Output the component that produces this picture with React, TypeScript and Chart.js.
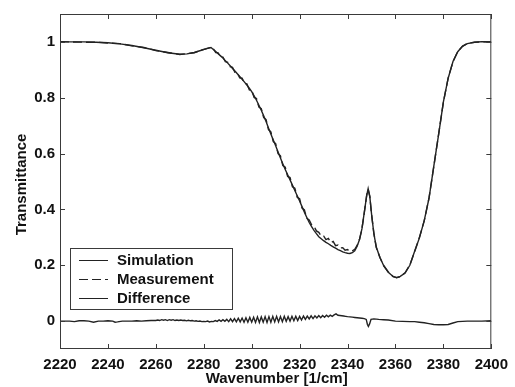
import React, { useEffect, useRef } from "react";
import { Chart, registerables } from "chart.js";

Chart.register(...registerables);

// Sampling grid (1/cm) shared by the simulated and measured spectra
const wavenumbers = [
  2220, 2225, 2230, 2235, 2240, 2245, 2250, 2255, 2260, 2265, 2270, 2273, 2276, 2279, 2281, 2283,
  2284, 2285, 2286, 2287, 2288, 2289, 2290, 2291, 2292, 2293, 2294, 2295, 2296, 2297, 2298, 2299,
  2300, 2301, 2302, 2303, 2304, 2305, 2306, 2307, 2308, 2309, 2310, 2311, 2312, 2313, 2314, 2315,
  2316, 2317, 2318, 2319, 2320, 2321, 2322, 2323, 2324, 2325, 2326, 2327, 2328, 2329, 2330, 2331,
  2332, 2333, 2334, 2335, 2336, 2337, 2338, 2339, 2340, 2341, 2342, 2343, 2344, 2345, 2346,
  2347, 2348, 2348.6, 2349.3, 2350, 2351, 2352, 2353.5, 2355, 2357, 2359, 2360.5, 2362, 2364,
  2366, 2368, 2370, 2372, 2374, 2376, 2378, 2380, 2382, 2384, 2386, 2388, 2390, 2393, 2396, 2400,
];

const simulation = [
  1.0, 1.0, 1.0, 0.999, 0.997, 0.993, 0.987, 0.979, 0.97, 0.961, 0.956, 0.957, 0.962, 0.97, 0.976, 0.98,
  0.973, 0.966, 0.958, 0.95, 0.942, 0.933, 0.924, 0.915, 0.905, 0.896, 0.886, 0.876, 0.866, 0.856, 0.845, 0.834,
  0.822, 0.807, 0.791, 0.773, 0.755, 0.735, 0.715, 0.692, 0.67, 0.649, 0.628, 0.606, 0.584, 0.563, 0.543, 0.524,
  0.506, 0.487, 0.468, 0.449, 0.43, 0.41, 0.39, 0.371, 0.353, 0.338, 0.325, 0.313, 0.302, 0.295, 0.288, 0.282,
  0.277, 0.271, 0.266, 0.261, 0.256, 0.252, 0.248, 0.245, 0.243, 0.242, 0.245, 0.252, 0.268, 0.292, 0.33,
  0.39, 0.45, 0.474, 0.445, 0.385, 0.312, 0.265, 0.228, 0.2, 0.175, 0.16, 0.155, 0.16, 0.172,
  0.2, 0.25, 0.298, 0.36, 0.44, 0.555, 0.668, 0.785, 0.87, 0.93, 0.965, 0.985, 0.994, 0.999, 1.001, 1.0,
];

const measurement = [
  1.001, 1.0, 0.999, 0.999, 0.996, 0.994, 0.986, 0.98, 0.969, 0.962, 0.955, 0.958, 0.961, 0.971, 0.975, 0.981,
  0.975, 0.962, 0.961, 0.946, 0.945, 0.929, 0.927, 0.911, 0.909, 0.891, 0.89, 0.871, 0.87, 0.851, 0.85, 0.828,
  0.827, 0.801, 0.797, 0.767, 0.761, 0.729, 0.722, 0.686, 0.678, 0.643, 0.636, 0.6, 0.592, 0.557, 0.551, 0.518,
  0.514, 0.481, 0.476, 0.443, 0.438, 0.405, 0.398, 0.368, 0.362, 0.345, 0.34, 0.323, 0.318, 0.305, 0.305, 0.292,
  0.296, 0.281, 0.285, 0.27, 0.272, 0.262, 0.263, 0.254, 0.256, 0.25, 0.252, 0.257, 0.271, 0.293, 0.33,
  0.388, 0.452, 0.472, 0.447, 0.383, 0.314, 0.263, 0.229, 0.199, 0.176, 0.159, 0.156, 0.159, 0.173,
  0.201, 0.249, 0.3, 0.359, 0.441, 0.554, 0.669, 0.784, 0.871, 0.929, 0.966, 0.984, 0.995, 0.999, 1.0, 1.0,
];

// Residual between the two spectra, sampled finer where it oscillates
const diffWavenumbers = [
  2220, 2222, 2224, 2226, 2228, 2230, 2232, 2234, 2236, 2238, 2240, 2242, 2243, 2244, 2246, 2248,
  2250, 2252, 2254, 2256, 2258,
  2260, 2260.8, 2261.6, 2262.4, 2263.2, 2264, 2264.8, 2265.6, 2266.4, 2267.2, 2268, 2268.8, 2269.6,
  2270.4, 2271.2, 2272, 2272.8, 2273.6, 2274.4, 2275.2, 2276, 2276.8, 2277.6, 2278.4, 2279.2, 2280,
  2280.8, 2281.6, 2282.4, 2283.2, 2284, 2284.8, 2285.6, 2286.4, 2287.2, 2288, 2288.8, 2289.6, 2290.4,
  2291.2, 2292, 2292.8, 2293.6, 2294.4, 2295.2, 2296, 2296.8, 2297.6, 2298.4, 2299.2, 2300, 2300.8,
  2301.6, 2302.4, 2303.2, 2304, 2304.8, 2305.6, 2306.4, 2307.2, 2308, 2308.8, 2309.6, 2310.4, 2311.2,
  2312, 2312.8, 2313.6, 2314.4, 2315.2, 2316, 2316.8, 2317.6, 2318.4, 2319.2, 2320, 2320.8, 2321.6,
  2322.4, 2323.2, 2324, 2324.8, 2325.6, 2326.4, 2327.2, 2328, 2328.8, 2329.6, 2330.4, 2331.2, 2332,
  2332.8, 2333.6, 2334.4, 2335.2, 2336, 2336.8, 2337.6, 2338.4, 2339.2, 2340,
  2341, 2342, 2343, 2344, 2345, 2346, 2347, 2347.8, 2348.3, 2348.7, 2349.2, 2349.8, 2351, 2353,
  2355, 2357, 2360, 2363, 2366, 2368, 2370, 2372, 2374, 2376, 2378, 2380, 2382, 2384, 2386, 2388,
  2390, 2393, 2396, 2400,
];

const difference = [
  0.0, 0.0, 0.0, -0.002, 0.001, 0.001, 0.0, -0.004, 0.0, 0.0, 0.001, 0.0, -0.004, -0.003, 0.0, 0.0,
  0.0, 0.001, 0.0, 0.001, 0.002,
  0.002, 0.004, 0.002, 0.005, 0.003, 0.005, 0.002, 0.005, 0.003, 0.005, 0.002, 0.004, 0.002,
  0.004, 0.002, 0.003, 0.001, 0.003, 0.001, 0.002, 0.0, 0.001, -0.001, 0.0, -0.002, -0.001,
  -0.002, 0.0, -0.003, -0.001, -0.002, 0.002, -0.001, 0.004, -0.001, 0.005, -0.001, 0.006, -0.002,
  0.008, -0.002, 0.009, -0.003, 0.01, -0.003, 0.011, -0.004, 0.012, -0.004, 0.013, -0.004, 0.014,
  -0.005, 0.015, -0.005, 0.015, -0.004, 0.016, -0.005, 0.016, -0.004, 0.017, -0.003, 0.017, -0.003,
  0.016, -0.002, 0.017, -0.001, 0.016, 0.0, 0.017, 0.001, 0.017, 0.002, 0.017, 0.004, 0.018,
  0.006, 0.018, 0.008, 0.019, 0.009, 0.019, 0.011, 0.02, 0.012, 0.02, 0.014, 0.021, 0.015,
  0.021, 0.017, 0.022, 0.026, 0.021, 0.02, 0.019, 0.018, 0.017, 0.016,
  0.015, 0.014, 0.013, 0.012, 0.011, 0.01, 0.009, 0.006, -0.012, -0.019, -0.01, 0.006, 0.008, 0.006,
  0.005, 0.004, 0.0, -0.001, -0.002, -0.002, -0.004, -0.006, -0.009, -0.012, -0.013, -0.013, -0.012, -0.007, -0.002, -0.001,
  0.0, 0.0, 0.0, 0.001,
];

const xTicks = [2220, 2240, 2260, 2280, 2300, 2320, 2340, 2360, 2380, 2400];
const yTicks = [0, 0.2, 0.4, 0.6, 0.8, 1];
const seriesLabels = ["Simulation", "Measurement", "Difference"];
const xTitle = "Wavenumber [1/cm]";
const yTitle = "Transmittance";

const FONT_FAMILY = '"Liberation Sans", Arial, Helvetica, sans-serif';
const TEXT = "#111111";
const INK = "#222222";
const DASH = [9, 4];
const LINE_WIDTH = 1.4;

const toPoints = (xs: number[], ys: number[]) => xs.map((x, i) => ({ x, y: ys[i] }));

// Boxed axes with inward ticks on all four sides, axis titles and an inset legend
const framePlugin = {
  id: "frame",
  afterDraw(chart: any) {
    const { ctx, chartArea: a, scales } = chart;
    const xs = scales.x;
    const ys = scales.y;
    ctx.save();
    ctx.strokeStyle = "#3a3a3a";
    ctx.lineWidth = 1;
    ctx.strokeRect(a.left + 0.5, a.top + 0.5, a.right - a.left - 1, a.bottom - a.top - 1);
    const tick = 5;
    ctx.beginPath();
    for (const t of xTicks) {
      const px = Math.round(xs.getPixelForValue(t)) + 0.5;
      ctx.moveTo(px, a.bottom);
      ctx.lineTo(px, a.bottom - tick);
      ctx.moveTo(px, a.top);
      ctx.lineTo(px, a.top + tick);
    }
    for (const t of yTicks) {
      const py = Math.round(ys.getPixelForValue(t)) + 0.5;
      ctx.moveTo(a.left, py);
      ctx.lineTo(a.left + tick, py);
      ctx.moveTo(a.right, py);
      ctx.lineTo(a.right - tick, py);
    }
    ctx.stroke();

    // axis titles
    ctx.fillStyle = TEXT;
    ctx.font = `bold 15px ${FONT_FAMILY}`;
    ctx.textAlign = "center";
    ctx.textBaseline = "middle";
    ctx.fillText(xTitle, (a.left + a.right) / 2 + 1, 379);
    ctx.save();
    ctx.translate(22, (a.top + a.bottom) / 2 + 3);
    ctx.rotate(-Math.PI / 2);
    ctx.fillText(yTitle, 0, 0);
    ctx.restore();

    // legend
    const lx = a.left + 10;
    const ly = a.bottom - 101;
    const lw = 162;
    const lh = 61;
    ctx.fillStyle = "#ffffff";
    ctx.fillRect(lx, ly, lw, lh);
    ctx.strokeStyle = "#3a3a3a";
    ctx.strokeRect(lx + 0.5, ly + 0.5, lw, lh);
    const dashes = [[], DASH, []];
    seriesLabels.forEach((label, i) => {
      const cy = ly + 12 + i * 19;
      ctx.beginPath();
      ctx.setLineDash(dashes[i]);
      ctx.strokeStyle = INK;
      ctx.lineWidth = 1;
      ctx.moveTo(lx + 9, cy + 0.5);
      ctx.lineTo(lx + 38, cy + 0.5);
      ctx.stroke();
      ctx.setLineDash([]);
      ctx.fillStyle = TEXT;
      ctx.textAlign = "left";
      ctx.textBaseline = "middle";
      ctx.fillText(label, lx + 47, cy + 1);
    });
    ctx.restore();
  },
};

export default function App() {
  const canvasRef = useRef<HTMLCanvasElement | null>(null);

  useEffect(() => {
    document.body.style.margin = "0";
    const canvas = canvasRef.current;
    if (!canvas) return;
    const chart = new Chart(canvas, {
      type: "line",
      data: {
        datasets: [
          {
            label: seriesLabels[0],
            data: toPoints(wavenumbers, simulation),
            borderColor: INK,
            borderWidth: LINE_WIDTH,
            pointRadius: 0,
            tension: 0,
          },
          {
            label: seriesLabels[1],
            data: toPoints(wavenumbers, measurement),
            borderColor: INK,
            borderWidth: LINE_WIDTH,
            borderDash: DASH,
            pointRadius: 0,
            tension: 0,
          },
          {
            label: seriesLabels[2],
            data: toPoints(diffWavenumbers, difference),
            borderColor: INK,
            borderWidth: LINE_WIDTH,
            pointRadius: 0,
            tension: 0,
          },
        ],
      },
      options: {
        animation: false,
        responsive: false,
        devicePixelRatio: 1,
        layout: { padding: { left: 0, top: 13, right: 23, bottom: 0 } },
        plugins: {
          legend: { display: false },
          tooltip: { enabled: false },
        },
        scales: {
          x: {
            type: "linear",
            min: 2220,
            max: 2400,
            afterFit: (s: any) => {
              s.height = 38;
            },
            afterBuildTicks: (s: any) => {
              s.ticks = xTicks.map((v) => ({ value: v }));
            },
            grid: { display: false, drawTicks: false },
            border: { display: false },
            ticks: {
              autoSkip: false,
              maxRotation: 0,
              padding: 7,
              color: TEXT,
              font: { family: FONT_FAMILY, size: 15, weight: "bold" },
              callback: (v: any) => String(v),
            },
          },
          y: {
            type: "linear",
            min: -0.1,
            max: 1.1,
            afterFit: (s: any) => {
              s.width = 60;
            },
            afterBuildTicks: (s: any) => {
              s.ticks = yTicks.map((v) => ({ value: v }));
            },
            grid: { display: false, drawTicks: false },
            border: { display: false },
            ticks: {
              padding: 5,
              color: TEXT,
              font: { family: FONT_FAMILY, size: 15, weight: "bold" },
              callback: (v: any) => (v === 0 || v === 1 ? String(v) : Number(v).toFixed(1)),
            },
          },
        },
      },
      plugins: [framePlugin],
    });
    return () => chart.destroy();
  }, []);

  return (
    <div style={{ position: "absolute", left: 0, top: 0, width: 515, height: 387, background: "#fff" }}>
      <canvas ref={canvasRef} width={515} height={387} />
    </div>
  );
}
